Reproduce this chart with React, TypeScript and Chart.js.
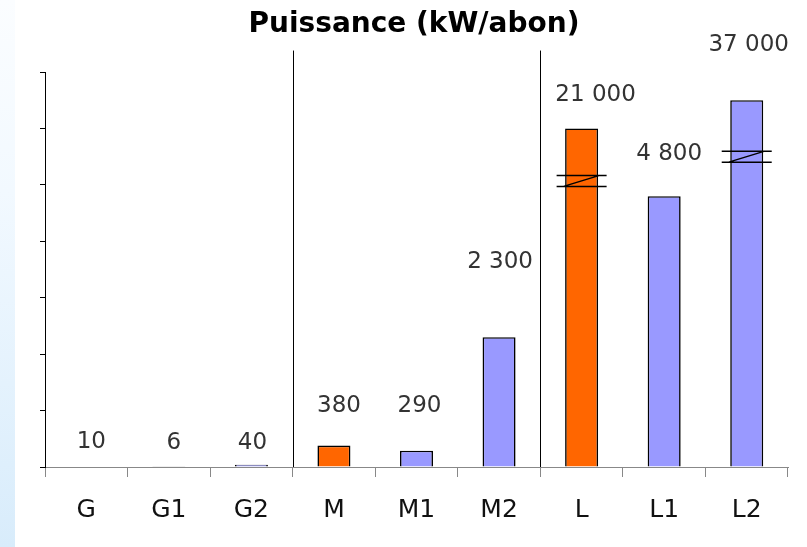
import React, { useEffect, useRef } from "react";
import { Chart, registerables } from "chart.js";

Chart.register(...registerables);

// ---- data ----
const categories = ["G", "G1", "G2", "M", "M1", "M2", "L", "L1", "L2"];
// real values shown in the labels
const actualValues = [10, 6, 40, 380, 290, 2300, 21000, 4800, 37000];
// bar heights as drawn (L and L2 are cut by an axis break)
const plottedValues = [10, 6, 40, 380, 290, 2300, 6000, 4800, 6500];
// where the break marks sit on the broken bars
const breakValues = [null, null, null, null, null, null, 5070, null, 5500];
const yMax = 7000;
const yStep = 1000;
const separatorAfter = [2.5, 5.5]; // group boundaries between G/M and M/L
const separatorTopValue = 7380;

// ---- styles ----
const ORANGE = "#ff6600";
const BLUE = "#9999ff";
const barColors = [ORANGE, BLUE, BLUE, ORANGE, BLUE, BLUE, ORANGE, BLUE, BLUE];
const labelLift = [24, 24, 22, 40, 45, 75, 33, 42, 55];
const labelShift = [5, 5, 1, 5, 3, 1, 14, 5, 2];
const FONT = "'DejaVu Sans', Verdana, sans-serif";

const fmt = (v: number) => String(v).replace(/\B(?=(\d{3})+(?!\d))/g, " ");

const decorPlugin = {
  id: "decor",
  afterDatasetsDraw(chart: any) {
    const ctx = chart.ctx;
    const xs = chart.scales.x;
    const ys = chart.scales.y;
    const meta = chart.getDatasetMeta(0);
    ctx.save();
    // group separators
    ctx.strokeStyle = "#000";
    ctx.lineWidth = 1;
    separatorAfter.forEach((v) => {
      const x = Math.round(xs.getPixelForValue(v)) + 0.5;
      ctx.beginPath();
      ctx.moveTo(x, ys.getPixelForValue(separatorTopValue));
      ctx.lineTo(x, ys.getPixelForValue(0));
      ctx.stroke();
    });
    // axis breaks
    ctx.lineWidth = 1.5;
    breakValues.forEach((bv, i) => {
      if (bv == null) return;
      const bar = meta.data[i];
      const cx = bar.x;
      const cy = ys.getPixelForValue(bv);
      const hw = 25;
      const g = 5.5;
      ctx.beginPath();
      ctx.moveTo(cx - hw, cy - g);
      ctx.lineTo(cx + hw, cy - g);
      ctx.moveTo(cx - hw, cy + g);
      ctx.lineTo(cx + hw, cy + g);
      ctx.moveTo(cx - 18, cy + g);
      ctx.lineTo(cx + 18, cy - g);
      ctx.stroke();
    });
    // value labels
    ctx.fillStyle = "#333";
    ctx.font = `23px ${FONT}`;
    ctx.textAlign = "center";
    ctx.textBaseline = "middle";
    meta.data.forEach((bar: any, i: number) => {
      ctx.fillText(fmt(actualValues[i]), bar.x + labelShift[i], bar.y - labelLift[i]);
    });
    ctx.restore();
  },
};

export default function App() {
  const ref = useRef<HTMLCanvasElement | null>(null);
  useEffect(() => {
    if (!ref.current) return;
    const chart = new Chart(ref.current, {
      type: "bar",
      data: {
        labels: categories,
        datasets: [
          {
            data: plottedValues,
            backgroundColor: barColors,
            borderColor: "#000",
            borderWidth: 1.6,
            borderSkipped: "start",
            barPercentage: 0.4,
            categoryPercentage: 1,
          },
        ],
      },
      options: {
        animation: false,
        responsive: true,
        maintainAspectRatio: false,
        layout: { padding: { left: 40, right: 19, top: 0, bottom: 4 } },
        plugins: {
          legend: { display: false },
          tooltip: { enabled: false },
          title: {
            display: true,
            text: "Puissance (kW/abon)",
            color: "#000",
            font: { family: FONT, size: 28, weight: "bold" },
            padding: { top: 8, bottom: 30.4 },
          },
        },
        scales: {
          x: {
            offset: true,
            grid: {
              offset: true,
              drawOnChartArea: false,
              drawTicks: true,
              tickLength: 10,
              color: "#888",
            },
            border: { color: "#888", width: 1 },
            ticks: {
              color: "#111",
              padding: 18,
              font: { family: FONT, size: 25 },
            },
          },
          y: {
            min: 0,
            max: yMax,
            ticks: { stepSize: yStep, display: false },
            grid: {
              drawOnChartArea: false,
              drawTicks: true,
              tickLength: 5,
              color: "#000",
            },
            border: { color: "#000", width: 1 },
          },
        },
      },
      plugins: [decorPlugin],
    });
    return () => chart.destroy();
  }, []);

  return (
    <div
      style={{
        position: "fixed",
        left: 0,
        top: 0,
        width: 807,
        height: 547,
        background: "#fff",
      }}
    >
      <div
        style={{
          position: "absolute",
          left: 0,
          top: 0,
          width: 15,
          height: 547,
          background:
            "linear-gradient(to bottom, #fbfdff 0%, #f2f9ff 35%, #e4f2fd 70%, #d8ecfb 100%)",
        }}
      />
      <canvas ref={ref} style={{ position: "absolute", left: 0, top: 0 }} />
    </div>
  );
}
